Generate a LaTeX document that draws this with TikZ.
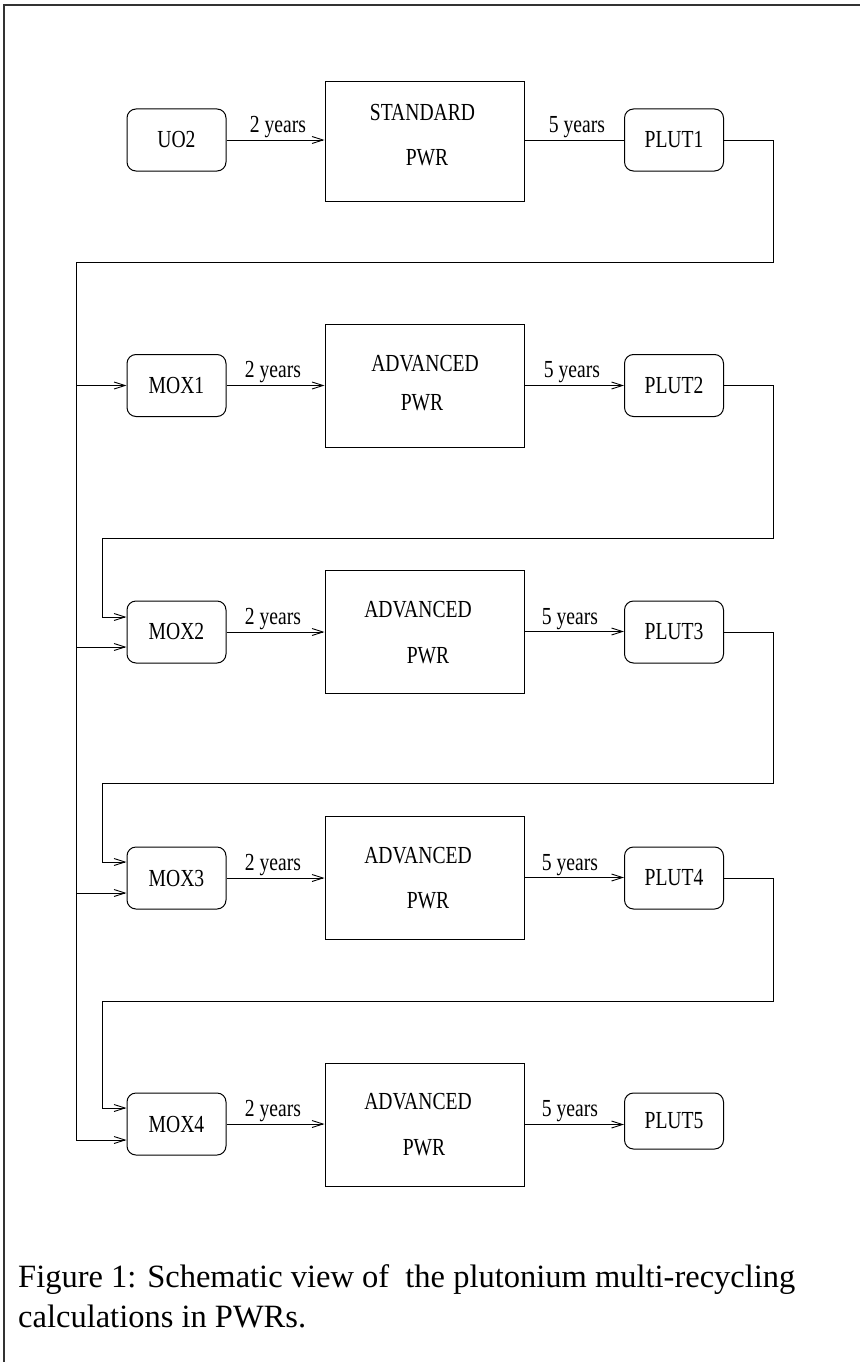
\documentclass[tikz,border=0pt]{standalone}
\usepackage{fontspec}
\setmainfont{Liberation Serif}
\newfontfamily\figfont[FakeStretch=0.8]{Liberation Serif}
\usetikzlibrary{arrows.meta,calc}
\begin{document}
\begin{tikzpicture}[x=1pt,y=-1pt,
  fuel/.style={draw, rounded corners=9pt, minimum width=99pt, minimum height=62pt, inner sep=0pt, line width=1pt, font=\figfont\fontsize{24.5}{29}\selectfont},
  reactor/.style={draw, minimum width=199pt, minimum height=123pt, inner sep=0pt, line width=1pt},
  txt/.style={inner sep=0pt, anchor=base, font=\figfont\fontsize{24.5}{29}\selectfont},
  captext/.style={inner sep=0pt, anchor=base west, font=\fontsize{32.5}{40}\selectfont},
  link/.style={line width=0.9pt},
  arr/.style={link, -{Straight Barb[length=11pt,width=7pt,line width=0.9pt]}},
  frame/.style={line width=1.2pt, black!80}
]
\useasboundingbox (0,0) rectangle (860,1362);
\draw[frame] (4,1362) -- (4,5) -- (860,5);

% Row 1
\node[fuel] (u) at (176.5,140) {UO2};
\node[reactor, minimum height=119pt] (r1) at (424.5,141.5) {};
\node[txt] (r1a) at (422.5,121) {STANDARD};
\node[txt] (r1b) at (427,165) {PWR};
\node[fuel] (p1) at (674,140) {PLUT1};
\node[txt] (y1a) at (278,132) {2 years};
\node[txt] (y1b) at (577,132) {5 years};
\draw[arr] (u.east) -- (u.east -| r1.west);
\draw[link] (r1.east |- p1.west) -- (p1.west);

% Row 2
\node[fuel] (m1) at (176.5,385.5) {MOX1};
\node[reactor] (r2) at (424.5,385.5) {};
\node[txt] (r2a) at (425,371) {ADVANCED};
\node[txt] (r2b) at (422,410) {PWR};
\node[fuel] (p2) at (674,385.5) {PLUT2};
\node[txt] (y2a) at (273,377) {2 years};
\node[txt] (y2b) at (572,377) {5 years};
\draw[arr] (m1.east) -- (m1.east -| r2.west);
\draw[arr] (r2.east) -- (r2.east -| p2.west);

% Row 3
\node[fuel] (m2) at (176.5,632) {MOX2};
\node[reactor] (r3) at (424.5,631.5) {};
\node[txt] (r3a) at (418,617) {ADVANCED};
\node[txt] (r3b) at (428,663) {PWR};
\node[fuel] (p3) at (674,632) {PLUT3};
\node[txt] (y3a) at (273,624) {2 years};
\node[txt] (y3b) at (570,624) {5 years};
\draw[arr] (m2.east) -- (m2.east -| r3.west);
\draw[arr] (r3.east) -- (r3.east -| p3.west);

% Row 4
\node[fuel] (m3) at (176.5,878) {MOX3};
\node[reactor] (r4) at (424.5,877.5) {};
\node[txt] (r4a) at (418,863) {ADVANCED};
\node[txt] (r4b) at (428,908) {PWR};
\node[fuel] (p4) at (674,878) {PLUT4};
\node[txt] (y4a) at (273,870) {2 years};
\node[txt] (y4b) at (570,870) {5 years};
\draw[arr] (m3.east) -- (m3.east -| r4.west);
\draw[arr] (r4.east) -- (r4.east -| p4.west);

% Row 5
\node[fuel] (m4) at (176.5,1124) {MOX4};
\node[reactor] (r5) at (424.5,1124.5) {};
\node[txt] (r5a) at (418,1109) {ADVANCED};
\node[txt] (r5b) at (424,1155) {PWR};
\node[fuel, minimum height=56pt] (p5) at (674,1121) {PLUT5};
\node[txt] (y5a) at (273,1116) {2 years};
\node[txt] (y5b) at (570,1116) {5 years};
\draw[arr] (m4.east) -- (m4.east -| r5.west);
\draw[arr] (r5.east) -- (r5.east -| p5.west);

% feedback coordinates
\coordinate (fb1) at (773,262);
\coordinate (trunk) at (76,262);
\coordinate (fb2) at (773,538);
\coordinate (lp2) at (102,538);
\coordinate (fb3) at (773,783);
\coordinate (lp3) at (102,783);
\coordinate (fb4) at (773,1001);
\coordinate (lp4) at (102,1001);
\coordinate (m2hi) at ($(m2.west)+(0,-15)$);
\coordinate (m2lo) at ($(m2.west)+(0,15)$);
\coordinate (m3hi) at ($(m3.west)+(0,-16)$);
\coordinate (m3lo) at ($(m3.west)+(0,15)$);
\coordinate (m4hi) at ($(m4.west)+(0,-16)$);
\coordinate (m4lo) at ($(m4.west)+(0,16)$);

% main trunk from PLUT1
\draw[arr] (p1.east) -| (fb1) -- (trunk) |- (m4lo);
\draw[arr] (trunk |- m1.west) -- (m1.west);
\draw[arr] (trunk |- m2lo) -- (m2lo);
\draw[arr] (trunk |- m3lo) -- (m3lo);

% recycling loops
\draw[arr] (p2.east) -| (fb2) -- (lp2) |- (m2hi);
\draw[arr] (p3.east) -| (fb3) -- (lp3) |- (m3hi);
\draw[arr] (p4.east) -| (fb4) -- (lp4) |- (m4hi);

% caption
\node[captext] (c1) at (18,1287) {Figure 1: Schematic view of\ \ the plutonium multi-recycling};
\node[captext] (c2) at (18,1327) {calculations in PWRs.};
\end{tikzpicture}
\end{document}
